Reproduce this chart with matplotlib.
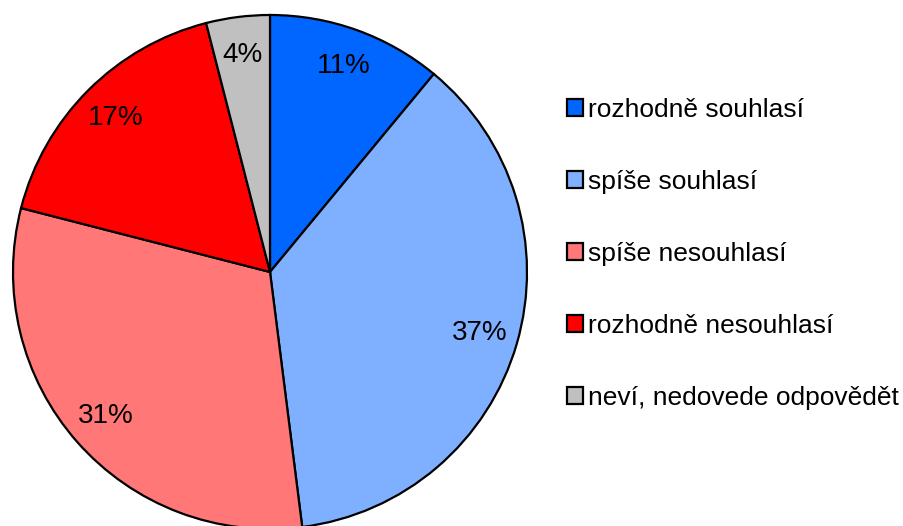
import matplotlib
matplotlib.use("Agg")
import matplotlib.pyplot as plt

categories = ["rozhodně souhlasí", "spíše souhlasí", "spíše nesouhlasí",
              "rozhodně nesouhlasí", "neví, nedovede odpovědět"]
values = [11, 37, 31, 17, 4]
colors = ["#0066FF", "#7FB0FF", "#FF7777", "#FF0000", "#C0C0C0"]

plt.rcParams['font.family'] = ['Liberation Sans', 'DejaVu Sans']

W, H = 904, 526
fig = plt.figure(figsize=(W / 100, H / 100), dpi=100)
cx, cy, r = 270, 272, 257
ax = fig.add_axes([(cx - r) / W, (H - cy - r) / H, 2 * r / W, 2 * r / H])
wedges, texts, autotexts = ax.pie(
    values, colors=colors, startangle=90, counterclock=False,
    autopct='%1.0f%%', pctdistance=0.85, radius=1.0,
    wedgeprops=dict(edgecolor='black', linewidth=1.6),
    textprops=dict(fontsize=20, color='black'))
ax.set_xlim(-1, 1)
ax.set_ylim(-1, 1)
ax.set_aspect('equal')
ax.axis('off')
for w in wedges:
    w.set_clip_on(False)

leg = fig.legend(wedges, categories, loc='upper left',
                 bbox_to_anchor=(567 / W, 1 - 98 / H), frameon=False,
                 fontsize=19, handlelength=0.6, handleheight=0.6,
                 handletextpad=0.19, labelspacing=1.82, borderpad=0,
                 borderaxespad=0)
for h in leg.legend_handles:
    h.set_linewidth(1.6)
    h.set_edgecolor('black')

fig.savefig("out.png", dpi=100)
